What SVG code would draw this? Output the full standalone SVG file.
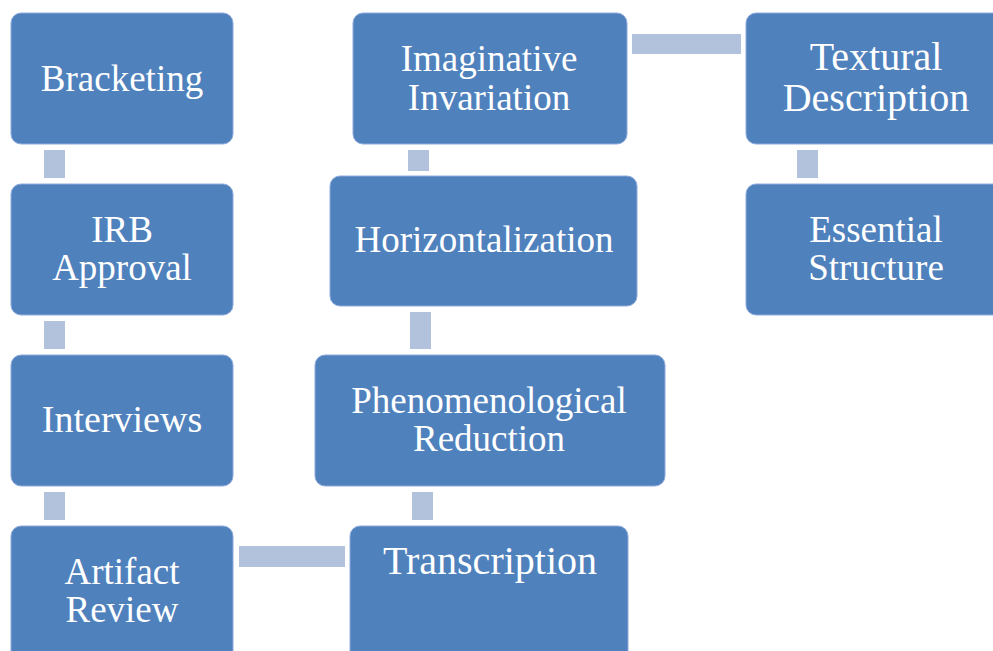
<svg xmlns="http://www.w3.org/2000/svg" width="993" height="651" viewBox="0 0 993 651">
<defs>
<style type="text/css">
.box{fill:#4F81BD;stroke:#8FAADC;stroke-width:1}
.con{fill:#B3C2DC}
text{font-family:"Liberation Serif","Times New Roman",Times,"DejaVu Serif",serif;fill:#ffffff;font-size:37px;text-anchor:middle}
</style>
</defs>
<rect width="993" height="651" fill="#ffffff"/>
<g id="connectors">
<rect class="con" x="44" y="150" width="21" height="28"/>
<rect class="con" x="44" y="321" width="21" height="28"/>
<rect class="con" x="44" y="492" width="21" height="28"/>
<rect class="con" x="239" y="546" width="106" height="21"/>
<rect class="con" x="412" y="492" width="21" height="28"/>
<rect class="con" x="410" y="312" width="21" height="37"/>
<rect class="con" x="408" y="150" width="21" height="21"/>
<rect class="con" x="632" y="34" width="109" height="20"/>
<rect class="con" x="797" y="150" width="21" height="28"/>
</g>
<g id="bracketing">
<rect class="box" x="11" y="13" width="222" height="131" rx="10"/>
<text x="122" y="91" style="font-family:'Liberation Serif',serif">Bracketing</text>
</g>
<g id="irb">
<rect class="box" x="11" y="184" width="222" height="131" rx="10"/>
<text x="122" y="242" style="font-family:'Liberation Serif',serif">IRB</text>
<text x="122" y="280" style="font-family:'Liberation Serif',serif">Approval</text>
</g>
<g id="interviews">
<rect class="box" x="11" y="355" width="222" height="131" rx="10"/>
<text x="122" y="432" style="font-family:'Liberation Serif',serif;font-size:38px">Interviews</text>
</g>
<g id="artifact">
<rect class="box" x="11" y="526" width="222" height="140" rx="10"/>
<text x="122" y="584" style="font-family:'Liberation Serif',serif">Artifact</text>
<text x="122" y="622" style="font-family:'Liberation Serif',serif">Review</text>
</g>
<g id="transcription">
<rect class="box" x="350" y="526" width="278" height="140" rx="10"/>
<text x="490" y="574" style="font-family:'Liberation Serif',serif;font-size:40px">Transcription</text>
</g>
<g id="reduction">
<rect class="box" x="315" y="355" width="350" height="131" rx="10"/>
<text x="489" y="413" style="font-family:'Liberation Serif',serif">Phenomenological</text>
<text x="489" y="451" style="font-family:'Liberation Serif',serif">Reduction</text>
</g>
<g id="horizontalization">
<rect class="box" x="330" y="176" width="307" height="130" rx="10"/>
<text x="484" y="252" style="font-family:'Liberation Serif',serif">Horizontalization</text>
</g>
<g id="invariation">
<rect class="box" x="353" y="13" width="274" height="131" rx="10"/>
<text x="489" y="71" style="font-family:'Liberation Serif',serif">Imaginative</text>
<text x="489" y="110" style="font-family:'Liberation Serif',serif">Invariation</text>
</g>
<g id="textural">
<rect class="box" x="746" y="13" width="262" height="131" rx="10"/>
<text x="876" y="70" style="font-family:'Liberation Serif',serif;font-size:40px">Textural</text>
<text x="876" y="111" style="font-family:'Liberation Serif',serif;font-size:40px">Description</text>
</g>
<g id="essential">
<rect class="box" x="746" y="184" width="262" height="131" rx="10"/>
<text x="876" y="242" style="font-family:'Liberation Serif',serif">Essential</text>
<text x="876" y="280" style="font-family:'Liberation Serif',serif">Structure</text>
</g>
</svg>
